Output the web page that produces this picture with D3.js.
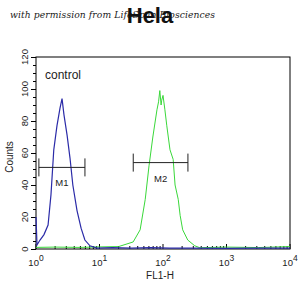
<!DOCTYPE html>
<html>
<head>
<meta charset="utf-8">
<script src="https://cdn.jsdelivr.net/npm/d3@7"></script>
<style>
  body { margin: 0; background: #fff; }
  svg { display: block; font-family: Arial, "Liberation Sans", sans-serif; }
</style>
</head>
<body>
<svg id="chart" width="305" height="296"></svg>
<script>
// FL1-H values (log10) and counts
const blueLog = [0, 0.016, 0.063, 0.126, 0.19, 0.236, 0.28, 0.33, 0.378, 0.41, 0.44, 0.49, 0.535, 0.58, 0.646, 0.71, 0.77, 0.85, 0.96, 1.2, 1.5, 1.8, 2.1, 2.5, 3.0, 3.5, 4.0];
const blueCounts = [20, 2.5, 5.6, 9, 15, 34, 62, 77, 88, 94, 84, 71, 57, 40, 24, 13, 5.6, 2, 0.6, 0.8, 0.5, 0.9, 0.5, 0.6, 0.4, 0.6, 0.5];
const greenLog = [0, 0.3, 0.7, 1.0, 1.3, 1.53, 1.64, 1.72, 1.78, 1.84, 1.905, 1.93, 1.95, 1.97, 1.98, 2.0, 2.03, 2.06, 2.11, 2.16, 2.19, 2.24, 2.27, 2.31, 2.39, 2.5, 2.58, 3.0, 3.5, 4.0];
const greenCounts = [1, 1.2, 1, 1.3, 1.5, 4.4, 12, 31, 52, 70, 87, 92, 99, 90, 93, 96, 87, 77, 62, 56, 40, 31, 21, 12, 5.6, 2, 0.8, 1.2, 0.9, 1.5];
const markers = [
  { name: "M1", from: 1.11, to: 5.9, level: 51 },
  { name: "M2", from: 34, to: 247, level: 54 }
];
const yTicks = [0, 20, 40, 60, 80, 100, 120];
const xDecades = [0, 1, 2, 3, 4];

const svg = d3.select("#chart");
const margin = { top: 57, right: 15, bottom: 47, left: 36 };
const width = 305, height = 296;

const x = d3.scaleLog()
  .domain([1, 10000])
  .range([margin.left, width - margin.right]);
const y = d3.scaleLinear()
  .domain([0, 120])
  .range([height - margin.bottom, margin.top]);

// watermark and title (they overlap in the original too)
svg.append("text")
  .attr("x", 10).attr("y", 18)
  .attr("font-family", "'DejaVu Serif', serif")
  .attr("font-style", "italic")
  .attr("font-size", 9.2)
  .attr("textLength", 205)
  .attr("fill", "#1a1a1a")
  .text("with permission from LifeSpan Biosciences");
svg.append("text")
  .attr("x", 150).attr("y", 23)
  .attr("text-anchor", "middle")
  .attr("font-weight", "bold")
  .attr("font-size", 22)
  .attr("fill", "#111")
  .text("Hela");

// frame
svg.append("rect")
  .attr("x", margin.left).attr("y", margin.top)
  .attr("width", width - margin.right - margin.left)
  .attr("height", height - margin.bottom - margin.top)
  .attr("fill", "none")
  .attr("stroke", "#000")
  .attr("stroke-width", 1);

// y axis
const yAxis = svg.append("g")
  .attr("transform", `translate(${margin.left},0)`);
yAxis.call(d3.axisLeft(y).tickValues(d3.range(0, 121, 5)).tickSize(3).tickFormat(""))
  .call(g => g.select(".domain").remove());
yAxis.selectAll(".tick line").attr("stroke", "#000");
yAxis.selectAll(".tick")
  .filter(d => yTicks.includes(d))
  .select("line").attr("x2", -5);
yAxis.selectAll(".ylab")
  .data(yTicks)
  .enter().append("text")
  .attr("class", "ylab")
  .attr("transform", d => `translate(-8,${y(d)}) rotate(-90)`)
  .attr("text-anchor", "middle")
  .attr("font-size", 9.5)
  .attr("fill", "#222")
  .text(d => d);

// x axis: minor ticks inward, labels 10^n
const minor = [];
xDecades.slice(0, -1).forEach(e => {
  for (let k = 2; k <= 9; k++) minor.push(k * Math.pow(10, e));
});
const xAxis = svg.append("g")
  .attr("transform", `translate(0,${height - margin.bottom})`);
xAxis.selectAll(".minor")
  .data(minor)
  .enter().append("line")
  .attr("x1", d => x(d)).attr("x2", d => x(d))
  .attr("y1", 0).attr("y2", -3)
  .attr("stroke", "#000");
xAxis.selectAll(".major")
  .data(xDecades)
  .enter().append("line")
  .attr("x1", d => x(Math.pow(10, d))).attr("x2", d => x(Math.pow(10, d)))
  .attr("y1", 0).attr("y2", -5)
  .attr("stroke", "#000");
const xl = xAxis.selectAll(".xlab")
  .data(xDecades)
  .enter().append("text")
  .attr("x", d => x(Math.pow(10, d)))
  .attr("y", 17)
  .attr("text-anchor", "middle")
  .attr("font-size", 9.5)
  .attr("fill", "#222");
xl.append("tspan").text("10");
xl.append("tspan").attr("dy", -5).attr("font-size", 8.5).text(d => d);

// axis titles
svg.append("text")
  .attr("transform", `translate(13,157) rotate(-90)`)
  .attr("text-anchor", "middle")
  .attr("font-size", 10)
  .attr("fill", "#222")
  .text("Counts");
svg.append("text")
  .attr("x", 160).attr("y", 279)
  .attr("text-anchor", "middle")
  .attr("font-size", 10)
  .attr("fill", "#222")
  .text("FL1-H");

svg.append("text")
  .attr("x", 45).attr("y", 79)
  .attr("font-size", 12)
  .attr("fill", "#222")
  .text("control");

// histograms
const line = d3.line()
  .x(d => x(Math.pow(10, d[0])))
  .y(d => y(d[1]));
svg.append("path")
  .datum(d3.zip(greenLog, greenCounts))
  .attr("fill", "none")
  .attr("stroke", "#3ad83a")
  .attr("stroke-width", 1)
  .attr("d", line);
svg.append("path")
  .datum(d3.zip(blueLog, blueCounts))
  .attr("fill", "none")
  .attr("stroke", "#2b2ba8")
  .attr("stroke-width", 1.2)
  .attr("d", line);

// marker bars
const mk = svg.selectAll(".marker")
  .data(markers)
  .enter().append("g")
  .attr("class", "marker");
mk.append("line")
  .attr("x1", d => x(d.from)).attr("x2", d => x(d.to))
  .attr("y1", d => y(d.level)).attr("y2", d => y(d.level))
  .attr("stroke", "#222");
mk.append("line")
  .attr("x1", d => x(d.from)).attr("x2", d => x(d.from))
  .attr("y1", d => y(d.level) - 9).attr("y2", d => y(d.level) + 9)
  .attr("stroke", "#222");
mk.append("line")
  .attr("x1", d => x(d.to)).attr("x2", d => x(d.to))
  .attr("y1", d => y(d.level) - 9).attr("y2", d => y(d.level) + 9)
  .attr("stroke", "#222");
mk.append("text")
  .attr("x", d => (x(d.from) + x(d.to)) / 2)
  .attr("y", d => y(d.level) + 19)
  .attr("text-anchor", "middle")
  .attr("font-size", 9.5)
  .attr("fill", "#222")
  .text(d => d.name);
</script>
</body>
</html>
